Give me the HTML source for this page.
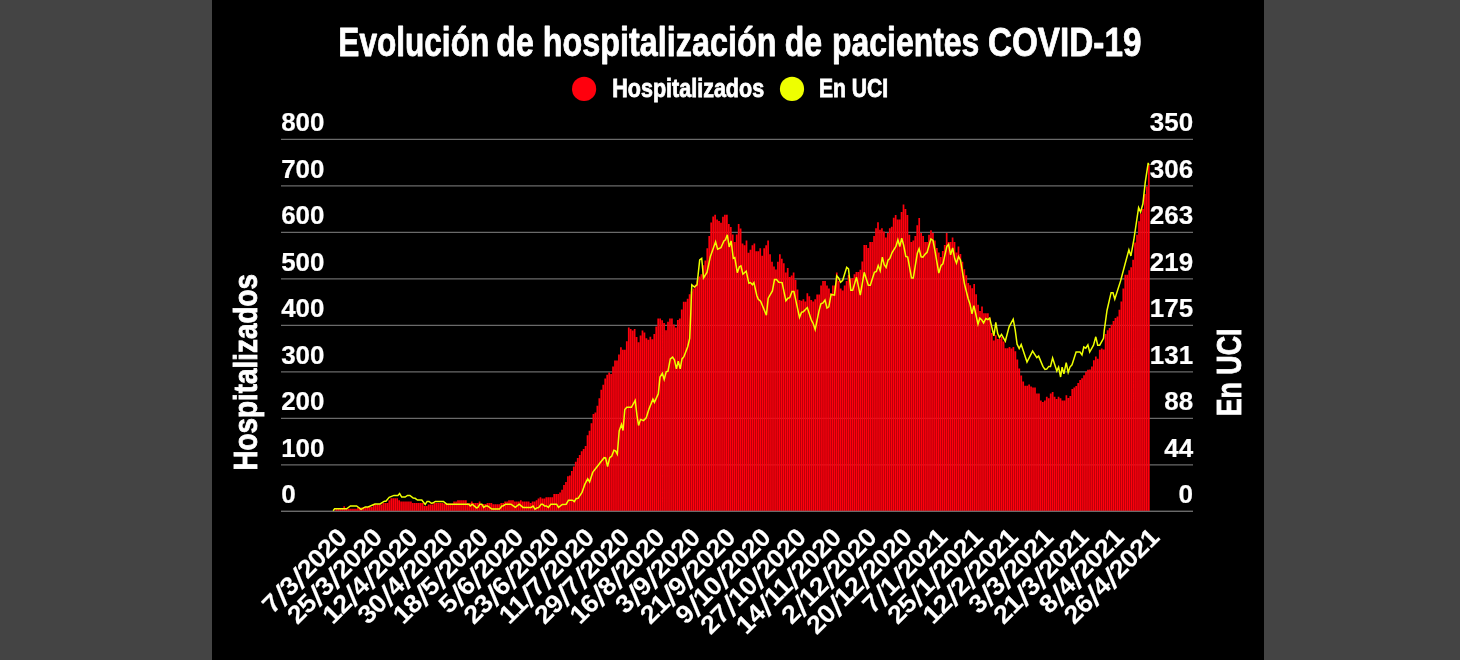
<!DOCTYPE html>
<html lang="es"><head><meta charset="utf-8"><title>Evolución de hospitalización de pacientes COVID-19</title>
<style>
html,body{margin:0;padding:0;background:#444;}
body{width:1460px;height:660px;overflow:hidden;position:relative;}
#panel{position:absolute;left:212px;top:0;width:1052px;height:660px;background:#000;}
svg{position:absolute;left:0;top:0;}
text{font-family:"Liberation Sans",sans-serif;font-weight:bold;fill:#fff;}
.sl{font-size:28.8px;font-style:italic;}
</style></head><body>
<div id="panel"></div>
<svg width="1460" height="660" viewBox="0 0 1460 660">
<g font-size="41.0" stroke="#fff" stroke-width="0.8" stroke-linejoin="round"><text><tspan x="338.32" y="55.7" textLength="150.93" lengthAdjust="spacingAndGlyphs">Evolución</tspan> <tspan x="496.35" y="55.7" textLength="37.35" lengthAdjust="spacingAndGlyphs">de</tspan> <tspan x="542.85" y="55.7" textLength="233.65" lengthAdjust="spacingAndGlyphs">hospitalización</tspan> <tspan x="784.79" y="55.7" textLength="37.37" lengthAdjust="spacingAndGlyphs">de</tspan> <tspan x="832.05" y="55.7" textLength="147.31" lengthAdjust="spacingAndGlyphs">pacientes</tspan> <tspan x="987.96" y="55.7" textLength="153.43" lengthAdjust="spacingAndGlyphs">COVID-19</tspan></text></g>
<circle cx="584.1" cy="88.9" r="12.1" fill="#ff000d"/>
<text x="612.3" y="97.4" font-size="25.3" textLength="151.8" lengthAdjust="spacingAndGlyphs" stroke="#fff" stroke-width="0.8">Hospitalizados</text>
<circle cx="792" cy="88.9" r="12.1" fill="#eeff00"/>
<text x="818.9" y="97.4" font-size="25.3" textLength="69.2" lengthAdjust="spacingAndGlyphs" stroke="#fff" stroke-width="0.8">En UCI</text>
<g stroke="#6a6a6a" stroke-width="1.38"><line x1="281" x2="1193" y1="511.35" y2="511.35"/><line x1="281" x2="1193" y1="464.85" y2="464.85"/><line x1="281" x2="1193" y1="418.35" y2="418.35"/><line x1="281" x2="1193" y1="371.85" y2="371.85"/><line x1="281" x2="1193" y1="325.35" y2="325.35"/><line x1="281" x2="1193" y1="278.85" y2="278.85"/><line x1="281" x2="1193" y1="232.35" y2="232.35"/><line x1="281" x2="1193" y1="185.85" y2="185.85"/><line x1="281" x2="1193" y1="139.35" y2="139.35"/></g>
<g font-size="25.5" stroke="#fff" stroke-width="0.2"><text x="281.2" y="503.1" textLength="14.5" lengthAdjust="spacingAndGlyphs">0</text><text x="281.2" y="456.6" textLength="43.3" lengthAdjust="spacingAndGlyphs">100</text><text x="281.2" y="410.1" textLength="43.3" lengthAdjust="spacingAndGlyphs">200</text><text x="281.2" y="363.6" textLength="43.3" lengthAdjust="spacingAndGlyphs">300</text><text x="281.2" y="317.1" textLength="43.3" lengthAdjust="spacingAndGlyphs">400</text><text x="281.2" y="270.6" textLength="43.3" lengthAdjust="spacingAndGlyphs">500</text><text x="281.2" y="224.1" textLength="43.3" lengthAdjust="spacingAndGlyphs">600</text><text x="281.2" y="177.6" textLength="43.3" lengthAdjust="spacingAndGlyphs">700</text><text x="281.2" y="131.1" textLength="43.3" lengthAdjust="spacingAndGlyphs">800</text><text x="1193.1" y="503.1" text-anchor="end" textLength="14.5" lengthAdjust="spacingAndGlyphs">0</text><text x="1193.1" y="456.6" text-anchor="end" textLength="28.9" lengthAdjust="spacingAndGlyphs">44</text><text x="1193.1" y="410.1" text-anchor="end" textLength="28.9" lengthAdjust="spacingAndGlyphs">88</text><text x="1193.1" y="363.6" text-anchor="end" textLength="43.3" lengthAdjust="spacingAndGlyphs">131</text><text x="1193.1" y="317.1" text-anchor="end" textLength="43.3" lengthAdjust="spacingAndGlyphs">175</text><text x="1193.1" y="270.6" text-anchor="end" textLength="43.3" lengthAdjust="spacingAndGlyphs">219</text><text x="1193.1" y="224.1" text-anchor="end" textLength="43.3" lengthAdjust="spacingAndGlyphs">263</text><text x="1193.1" y="177.6" text-anchor="end" textLength="43.3" lengthAdjust="spacingAndGlyphs">306</text><text x="1193.1" y="131.1" text-anchor="end" textLength="43.3" lengthAdjust="spacingAndGlyphs">350</text></g>
<path d="M333.53 511.4V510.7h1.7V511.4zM335.49 511.4V507.9h1.7V511.4zM337.46 511.4V507.9h1.7V511.4zM339.42 511.4V507.9h1.7V511.4zM341.38 511.4V507.9h1.7V511.4zM343.34 511.4V506.2h1.7V511.4zM345.31 511.4V508.2h1.7V511.4zM347.27 511.4V508.8h1.7V511.4zM349.23 511.4V508.8h1.7V511.4zM351.19 511.4V508.8h1.7V511.4zM353.16 511.4V508.8h1.7V511.4zM355.12 511.4V508.8h1.7V511.4zM357.08 511.4V507.4h1.7V511.4zM359.04 511.4V507.4h1.7V511.4zM361.01 511.4V507.4h1.7V511.4zM362.97 511.4V506.9h1.7V511.4zM364.93 511.4V506.9h1.7V511.4zM366.89 511.4V506.9h1.7V511.4zM368.86 511.4V506.9h1.7V511.4zM370.82 511.4V506.9h1.7V511.4zM372.78 511.4V504.5h1.7V511.4zM374.74 511.4V504.5h1.7V511.4zM376.71 511.4V504.5h1.7V511.4zM378.67 511.4V504.5h1.7V511.4zM380.63 511.4V504.5h1.7V511.4zM382.59 511.4V503.1h1.7V511.4zM384.56 511.4V503.1h1.7V511.4zM386.52 511.4V503.1h1.7V511.4zM388.48 511.4V500.2h1.7V511.4zM390.44 511.4V498.3h1.7V511.4zM392.41 511.4V498.3h1.7V511.4zM394.37 511.4V498.3h1.7V511.4zM396.33 511.4V498.3h1.7V511.4zM398.29 511.4V500.2h1.7V511.4zM400.26 511.4V501.6h1.7V511.4zM402.22 511.4V501.6h1.7V511.4zM404.18 511.4V501.6h1.7V511.4zM406.14 511.4V501.6h1.7V511.4zM408.11 511.4V501.6h1.7V511.4zM410.07 511.4V501.6h1.7V511.4zM412.03 511.4V503.1h1.7V511.4zM413.99 511.4V503.1h1.7V511.4zM415.96 511.4V503.1h1.7V511.4zM417.92 511.4V503.1h1.7V511.4zM419.88 511.4V503.1h1.7V511.4zM421.84 511.4V503.1h1.7V511.4zM423.81 511.4V506.0h1.7V511.4zM425.77 511.4V506.0h1.7V511.4zM427.73 511.4V504.5h1.7V511.4zM429.69 511.4V504.5h1.7V511.4zM431.66 511.4V504.5h1.7V511.4zM433.62 511.4V503.1h1.7V511.4zM435.58 511.4V503.1h1.7V511.4zM437.54 511.4V503.1h1.7V511.4zM439.51 511.4V503.1h1.7V511.4zM441.47 511.4V503.1h1.7V511.4zM443.43 511.4V503.4h1.7V511.4zM445.39 511.4V503.4h1.7V511.4zM447.36 511.4V503.4h1.7V511.4zM449.32 511.4V503.4h1.7V511.4zM451.28 511.4V503.4h1.7V511.4zM453.24 511.4V501.6h1.7V511.4zM455.21 511.4V501.6h1.7V511.4zM457.17 511.4V500.2h1.7V511.4zM459.13 511.4V500.2h1.7V511.4zM461.09 511.4V500.2h1.7V511.4zM463.06 511.4V500.2h1.7V511.4zM465.02 511.4V500.2h1.7V511.4zM466.98 511.4V503.1h1.7V511.4zM468.94 511.4V503.1h1.7V511.4zM470.91 511.4V501.6h1.7V511.4zM472.87 511.4V503.1h1.7V511.4zM474.83 511.4V503.1h1.7V511.4zM476.79 511.4V503.1h1.7V511.4zM478.76 511.4V501.6h1.7V511.4zM480.72 511.4V504.0h1.7V511.4zM482.68 511.4V504.0h1.7V511.4zM484.64 511.4V504.0h1.7V511.4zM486.61 511.4V503.1h1.7V511.4zM488.57 511.4V503.1h1.7V511.4zM490.53 511.4V503.1h1.7V511.4zM492.49 511.4V504.3h1.7V511.4zM494.46 511.4V504.3h1.7V511.4zM496.42 511.4V504.3h1.7V511.4zM498.38 511.4V504.3h1.7V511.4zM500.34 511.4V503.1h1.7V511.4zM502.31 511.4V503.1h1.7V511.4zM504.27 511.4V501.4h1.7V511.4zM506.23 511.4V501.4h1.7V511.4zM508.19 511.4V500.2h1.7V511.4zM510.16 511.4V500.2h1.7V511.4zM512.12 511.4V500.2h1.7V511.4zM514.08 511.4V501.4h1.7V511.4zM516.04 511.4V501.4h1.7V511.4zM518.01 511.4V501.4h1.7V511.4zM519.97 511.4V500.2h1.7V511.4zM521.93 511.4V501.4h1.7V511.4zM523.89 511.4V501.4h1.7V511.4zM525.86 511.4V501.4h1.7V511.4zM527.82 511.4V501.4h1.7V511.4zM529.78 511.4V503.1h1.7V511.4zM531.74 511.4V501.4h1.7V511.4zM533.71 511.4V501.4h1.7V511.4zM535.67 511.4V500.2h1.7V511.4zM537.63 511.4V498.5h1.7V511.4zM539.59 511.4V497.3h1.7V511.4zM541.56 511.4V498.5h1.7V511.4zM543.52 511.4V498.5h1.7V511.4zM545.48 511.4V497.3h1.7V511.4zM547.44 511.4V497.3h1.7V511.4zM549.41 511.4V497.3h1.7V511.4zM551.37 511.4V497.3h1.7V511.4zM553.33 511.4V494.0h1.7V511.4zM555.29 511.4V494.0h1.7V511.4zM557.26 511.4V494.0h1.7V511.4zM559.22 511.4V492.5h1.7V511.4zM561.18 511.4V489.7h1.7V511.4zM563.14 511.4V485.1h1.7V511.4zM565.11 511.4V482.0h1.7V511.4zM567.07 511.4V476.2h1.7V511.4zM569.03 511.4V475.5h1.7V511.4zM570.99 511.4V470.9h1.7V511.4zM572.96 511.4V466.4h1.7V511.4zM574.92 511.4V461.8h1.7V511.4zM576.88 511.4V458.0h1.7V511.4zM578.84 511.4V455.0h1.7V511.4zM580.81 511.4V451.2h1.7V511.4zM582.77 511.4V448.9h1.7V511.4zM584.73 511.4V445.9h1.7V511.4zM586.69 511.4V435.3h1.7V511.4zM588.66 511.4V430.8h1.7V511.4zM590.62 511.4V423.2h1.7V511.4zM592.58 511.4V414.1h1.7V511.4zM594.54 511.4V412.6h1.7V511.4zM596.51 511.4V405.8h1.7V511.4zM598.47 511.4V398.2h1.7V511.4zM600.43 511.4V389.8h1.7V511.4zM602.39 511.4V384.7h1.7V511.4zM604.36 511.4V378.6h1.7V511.4zM606.32 511.4V374.8h1.7V511.4zM608.28 511.4V372.6h1.7V511.4zM610.24 511.4V374.1h1.7V511.4zM612.21 511.4V366.5h1.7V511.4zM614.17 511.4V360.5h1.7V511.4zM616.13 511.4V360.5h1.7V511.4zM618.09 511.4V354.4h1.7V511.4zM620.06 511.4V347.3h1.7V511.4zM622.02 511.4V349.8h1.7V511.4zM623.98 511.4V349.8h1.7V511.4zM625.94 511.4V341.2h1.7V511.4zM627.91 511.4V327.6h1.7V511.4zM629.87 511.4V329.1h1.7V511.4zM631.83 511.4V330.6h1.7V511.4zM633.79 511.4V329.1h1.7V511.4zM635.76 511.4V337.0h1.7V511.4zM637.72 511.4V342.3h1.7V511.4zM639.68 511.4V335.5h1.7V511.4zM641.64 511.4V330.6h1.7V511.4zM643.61 511.4V332.4h1.7V511.4zM645.57 511.4V338.2h1.7V511.4zM647.53 511.4V339.7h1.7V511.4zM649.49 511.4V336.7h1.7V511.4zM651.46 511.4V339.2h1.7V511.4zM653.42 511.4V333.9h1.7V511.4zM655.38 511.4V326.4h1.7V511.4zM657.34 511.4V318.5h1.7V511.4zM659.31 511.4V318.5h1.7V511.4zM661.27 511.4V320.3h1.7V511.4zM663.23 511.4V323.0h1.7V511.4zM665.19 511.4V330.2h1.7V511.4zM667.16 511.4V321.8h1.7V511.4zM669.12 511.4V318.5h1.7V511.4zM671.08 511.4V318.5h1.7V511.4zM673.04 511.4V324.5h1.7V511.4zM675.01 511.4V327.6h1.7V511.4zM676.97 511.4V320.0h1.7V511.4zM678.93 511.4V318.5h1.7V511.4zM680.89 511.4V309.4h1.7V511.4zM682.86 511.4V301.8h1.7V511.4zM684.82 511.4V301.8h1.7V511.4zM686.78 511.4V298.8h1.7V511.4zM688.74 511.4V294.2h1.7V511.4zM690.71 511.4V291.5h1.7V511.4zM692.67 511.4V288.6h1.7V511.4zM694.63 511.4V284.5h1.7V511.4zM696.59 511.4V280.3h1.7V511.4zM698.56 511.4V276.5h1.7V511.4zM700.52 511.4V274.2h1.7V511.4zM702.48 511.4V265.2h1.7V511.4zM704.44 511.4V260.6h1.7V511.4zM706.41 511.4V248.2h1.7V511.4zM708.37 511.4V236.1h1.7V511.4zM710.33 511.4V222.4h1.7V511.4zM712.29 511.4V216.4h1.7V511.4zM714.26 511.4V214.8h1.7V511.4zM716.22 511.4V219.4h1.7V511.4zM718.18 511.4V220.9h1.7V511.4zM720.14 511.4V222.7h1.7V511.4zM722.11 511.4V216.7h1.7V511.4zM724.07 511.4V214.8h1.7V511.4zM726.03 511.4V214.8h1.7V511.4zM727.99 511.4V223.9h1.7V511.4zM729.96 511.4V227.0h1.7V511.4zM731.92 511.4V234.5h1.7V511.4zM733.88 511.4V242.1h1.7V511.4zM735.84 511.4V234.5h1.7V511.4zM737.81 511.4V223.9h1.7V511.4zM739.77 511.4V228.5h1.7V511.4zM741.73 511.4V243.6h1.7V511.4zM743.69 511.4V245.2h1.7V511.4zM745.66 511.4V240.6h1.7V511.4zM747.62 511.4V252.7h1.7V511.4zM749.58 511.4V249.7h1.7V511.4zM751.54 511.4V245.2h1.7V511.4zM753.51 511.4V243.6h1.7V511.4zM755.47 511.4V251.2h1.7V511.4zM757.43 511.4V251.2h1.7V511.4zM759.39 511.4V248.2h1.7V511.4zM761.36 511.4V255.8h1.7V511.4zM763.32 511.4V248.2h1.7V511.4zM765.28 511.4V245.2h1.7V511.4zM767.24 511.4V240.6h1.7V511.4zM769.21 511.4V254.2h1.7V511.4zM771.17 511.4V261.8h1.7V511.4zM773.13 511.4V266.4h1.7V511.4zM775.09 511.4V269.4h1.7V511.4zM777.06 511.4V261.8h1.7V511.4zM779.02 511.4V254.2h1.7V511.4zM780.98 511.4V258.8h1.7V511.4zM782.94 511.4V263.3h1.7V511.4zM784.91 511.4V272.4h1.7V511.4zM786.87 511.4V267.9h1.7V511.4zM788.83 511.4V277.0h1.7V511.4zM790.79 511.4V275.5h1.7V511.4zM792.76 511.4V272.4h1.7V511.4zM794.72 511.4V280.0h1.7V511.4zM796.68 511.4V289.4h1.7V511.4zM798.64 511.4V300.0h1.7V511.4zM800.61 511.4V300.8h1.7V511.4zM802.57 511.4V299.2h1.7V511.4zM804.53 511.4V301.5h1.7V511.4zM806.49 511.4V293.2h1.7V511.4zM808.46 511.4V296.2h1.7V511.4zM810.42 511.4V300.0h1.7V511.4zM812.38 511.4V301.5h1.7V511.4zM814.34 511.4V299.2h1.7V511.4zM816.31 511.4V294.4h1.7V511.4zM818.27 511.4V294.4h1.7V511.4zM820.23 511.4V285.6h1.7V511.4zM822.19 511.4V281.1h1.7V511.4zM824.16 511.4V281.1h1.7V511.4zM826.12 511.4V285.6h1.7V511.4zM828.08 511.4V288.6h1.7V511.4zM830.04 511.4V293.2h1.7V511.4zM832.01 511.4V285.6h1.7V511.4zM833.97 511.4V285.6h1.7V511.4zM835.93 511.4V272.4h1.7V511.4zM837.89 511.4V281.1h1.7V511.4zM839.86 511.4V288.6h1.7V511.4zM841.82 511.4V290.6h1.7V511.4zM843.78 511.4V285.6h1.7V511.4zM845.74 511.4V281.1h1.7V511.4zM847.71 511.4V275.0h1.7V511.4zM849.67 511.4V278.8h1.7V511.4zM851.63 511.4V278.0h1.7V511.4zM853.59 511.4V274.2h1.7V511.4zM855.56 511.4V272.0h1.7V511.4zM857.52 511.4V272.0h1.7V511.4zM859.48 511.4V269.7h1.7V511.4zM861.44 511.4V261.4h1.7V511.4zM863.41 511.4V245.0h1.7V511.4zM865.37 511.4V245.0h1.7V511.4zM867.33 511.4V248.0h1.7V511.4zM869.29 511.4V242.0h1.7V511.4zM871.26 511.4V242.0h1.7V511.4zM873.22 511.4V235.9h1.7V511.4zM875.18 511.4V228.3h1.7V511.4zM877.14 511.4V222.3h1.7V511.4zM879.11 511.4V229.8h1.7V511.4zM881.07 511.4V228.3h1.7V511.4zM883.03 511.4V231.4h1.7V511.4zM884.99 511.4V237.4h1.7V511.4zM886.96 511.4V232.9h1.7V511.4zM888.92 511.4V228.3h1.7V511.4zM890.88 511.4V226.8h1.7V511.4zM892.84 511.4V217.7h1.7V511.4zM894.81 511.4V215.0h1.7V511.4zM896.77 511.4V219.5h1.7V511.4zM898.73 511.4V219.5h1.7V511.4zM900.69 511.4V212.0h1.7V511.4zM902.66 511.4V204.4h1.7V511.4zM904.62 511.4V208.9h1.7V511.4zM906.58 511.4V215.0h1.7V511.4zM908.54 511.4V234.7h1.7V511.4zM910.51 511.4V242.0h1.7V511.4zM912.47 511.4V240.5h1.7V511.4zM914.43 511.4V235.9h1.7V511.4zM916.39 511.4V225.3h1.7V511.4zM918.36 511.4V218.0h1.7V511.4zM920.32 511.4V232.9h1.7V511.4zM922.28 511.4V235.9h1.7V511.4zM924.24 511.4V242.0h1.7V511.4zM926.21 511.4V242.0h1.7V511.4zM928.17 511.4V234.7h1.7V511.4zM930.13 511.4V230.2h1.7V511.4zM932.09 511.4V232.9h1.7V511.4zM934.06 511.4V240.5h1.7V511.4zM936.02 511.4V248.0h1.7V511.4zM937.98 511.4V252.6h1.7V511.4zM939.94 511.4V257.1h1.7V511.4zM941.91 511.4V251.1h1.7V511.4zM943.87 511.4V245.0h1.7V511.4zM945.83 511.4V232.9h1.7V511.4zM947.79 511.4V242.0h1.7V511.4zM949.76 511.4V242.0h1.7V511.4zM951.72 511.4V237.4h1.7V511.4zM953.68 511.4V242.0h1.7V511.4zM955.64 511.4V252.6h1.7V511.4zM957.61 511.4V246.5h1.7V511.4zM959.57 511.4V254.1h1.7V511.4zM961.53 511.4V261.7h1.7V511.4zM963.49 511.4V269.2h1.7V511.4zM965.46 511.4V275.3h1.7V511.4zM967.42 511.4V282.9h1.7V511.4zM969.38 511.4V285.2h1.7V511.4zM971.34 511.4V288.2h1.7V511.4zM973.31 511.4V283.9h1.7V511.4zM975.27 511.4V294.2h1.7V511.4zM977.23 511.4V304.8h1.7V511.4zM979.19 511.4V310.9h1.7V511.4zM981.16 511.4V306.4h1.7V511.4zM983.12 511.4V313.2h1.7V511.4zM985.08 511.4V313.2h1.7V511.4zM987.04 511.4V313.2h1.7V511.4zM989.01 511.4V317.7h1.7V511.4zM990.97 511.4V332.9h1.7V511.4zM992.93 511.4V340.5h1.7V511.4zM994.89 511.4V335.2h1.7V511.4zM996.86 511.4V338.9h1.7V511.4zM998.82 511.4V338.9h1.7V511.4zM1000.78 511.4V336.8h1.7V511.4zM1002.74 511.4V341.4h1.7V511.4zM1004.71 511.4V348.2h1.7V511.4zM1006.67 511.4V348.2h1.7V511.4zM1008.63 511.4V347.0h1.7V511.4zM1010.59 511.4V348.5h1.7V511.4zM1012.56 511.4V347.0h1.7V511.4zM1014.52 511.4V351.2h1.7V511.4zM1016.48 511.4V359.5h1.7V511.4zM1018.44 511.4V368.6h1.7V511.4zM1020.41 511.4V375.5h1.7V511.4zM1022.37 511.4V381.5h1.7V511.4zM1024.33 511.4V385.8h1.7V511.4zM1026.29 511.4V385.8h1.7V511.4zM1028.26 511.4V384.5h1.7V511.4zM1030.22 511.4V386.4h1.7V511.4zM1032.18 511.4V387.6h1.7V511.4zM1034.14 511.4V387.6h1.7V511.4zM1036.11 511.4V393.6h1.7V511.4zM1038.07 511.4V393.6h1.7V511.4zM1040.03 511.4V400.5h1.7V511.4zM1041.99 511.4V402.0h1.7V511.4zM1043.96 511.4V400.5h1.7V511.4zM1045.92 511.4V396.7h1.7V511.4zM1047.88 511.4V398.2h1.7V511.4zM1049.84 511.4V393.6h1.7V511.4zM1051.81 511.4V392.1h1.7V511.4zM1053.77 511.4V396.7h1.7V511.4zM1055.73 511.4V398.9h1.7V511.4zM1057.69 511.4V396.7h1.7V511.4zM1059.66 511.4V398.2h1.7V511.4zM1061.62 511.4V400.5h1.7V511.4zM1063.58 511.4V400.5h1.7V511.4zM1065.54 511.4V395.2h1.7V511.4zM1067.51 511.4V397.9h1.7V511.4zM1069.47 511.4V395.9h1.7V511.4zM1071.43 511.4V389.1h1.7V511.4zM1073.39 511.4V387.6h1.7V511.4zM1075.36 511.4V386.1h1.7V511.4zM1077.32 511.4V383.0h1.7V511.4zM1079.28 511.4V380.0h1.7V511.4zM1081.24 511.4V378.2h1.7V511.4zM1083.21 511.4V375.2h1.7V511.4zM1085.17 511.4V371.7h1.7V511.4zM1087.13 511.4V369.7h1.7V511.4zM1089.09 511.4V369.4h1.7V511.4zM1091.06 511.4V366.4h1.7V511.4zM1093.02 511.4V360.3h1.7V511.4zM1094.98 511.4V356.5h1.7V511.4zM1096.94 511.4V358.8h1.7V511.4zM1098.91 511.4V349.7h1.7V511.4zM1100.87 511.4V348.5h1.7V511.4zM1102.83 511.4V349.4h1.7V511.4zM1104.79 511.4V333.9h1.7V511.4zM1106.76 511.4V330.2h1.7V511.4zM1108.72 511.4V327.9h1.7V511.4zM1110.68 511.4V324.8h1.7V511.4zM1112.64 511.4V321.1h1.7V511.4zM1114.61 511.4V318.0h1.7V511.4zM1116.57 511.4V316.5h1.7V511.4zM1118.53 511.4V309.7h1.7V511.4zM1120.49 511.4V301.4h1.7V511.4zM1122.46 511.4V288.5h1.7V511.4zM1124.42 511.4V274.8h1.7V511.4zM1126.38 511.4V274.8h1.7V511.4zM1128.34 511.4V270.3h1.7V511.4zM1130.31 511.4V267.3h1.7V511.4zM1132.27 511.4V259.7h1.7V511.4zM1134.23 511.4V242.4h1.7V511.4zM1136.19 511.4V234.8h1.7V511.4zM1138.16 511.4V221.2h1.7V511.4zM1140.12 511.4V213.6h1.7V511.4zM1142.08 511.4V209.1h1.7V511.4zM1144.04 511.4V193.9h1.7V511.4zM1146.01 511.4V186.4h1.7V511.4zM1147.97 511.4V165.2h1.7V511.4z" fill="#ff000d"/>
<line x1="281" x2="1193" y1="511.35" y2="511.35" stroke="#6a6a6a" stroke-width="1.38"/>
<polyline points="333.1,510.7 334.6,508.8 346.6,508.8 350.4,506.0 356.6,506.0 361.0,509.3 365.3,506.9 368.1,506.9 374.9,504.0 380.1,504.0 384.4,501.2 385.9,501.2 389.2,497.3 394.0,495.4 397.9,495.4 399.6,493.5 401.7,497.1 405.1,497.1 407.5,495.4 409.9,495.4 413.2,498.1 415.1,498.3 417.5,500.0 421.8,500.0 425.2,504.5 427.1,501.4 429.0,501.4 431.4,503.3 432.9,503.1 435.3,501.4 443.4,501.4 446.8,504.2 465.0,504.2 468.8,504.2 470.3,506.0 472.2,504.2 476.5,507.9 477.9,507.4 479.9,504.2 481.8,504.2 483.7,507.4 485.6,506.0 487.5,506.0 491.8,509.1 499.5,509.1 501.9,506.0 503.4,505.7 505.7,504.2 511.0,504.2 515.3,507.4 519.2,504.2 523.0,507.4 531.2,507.4 533.1,506.0 535.0,509.1 536.9,507.9 538.8,507.4 541.2,504.2 542.7,504.2 544.6,506.0 546.5,506.0 548.4,507.4 550.8,504.2 556.6,504.2 558.5,507.4 562.3,504.5 566.2,504.2 568.5,500.2 572.4,500.2 574.3,501.6 576.2,498.5 578.1,498.3 582.0,492.5 584.8,484.4 587.7,478.8 589.6,482.0 592.7,472.4 604.1,457.7 605.6,458.0 607.6,466.7 609.7,457.7 611.7,456.2 613.9,450.2 615.5,450.9 617.3,454.2 619.2,430.8 621.5,424.4 623.0,430.5 624.8,409.5 626.8,407.3 631.4,407.3 635.2,400.5 637.0,415.6 638.6,425.5 640.5,419.4 643.5,420.6 646.2,417.9 648.8,409.5 652.9,399.2 654.4,402.4 658.3,393.9 660.0,377.1 662.4,373.3 664.2,379.4 666.2,371.8 668.0,371.1 670.3,358.9 672.6,357.1 674.4,359.7 676.4,368.8 678.2,361.2 680.2,368.8 682.0,358.9 683.9,356.7 687.7,346.8 689.7,338.5 690.8,312.7 691.8,284.8 694.4,287.1 697.0,284.8 699.7,259.8 701.7,258.3 703.5,278.0 707.0,272.4 710.3,256.8 715.6,241.7 717.6,249.2 720.9,247.7 723.9,240.9 725.5,239.8 727.3,234.8 729.2,247.0 731.1,240.9 733.3,258.3 734.8,257.6 737.3,272.7 739.4,266.7 740.9,265.9 742.9,274.2 746.2,271.2 748.9,283.3 750.5,282.6 752.4,284.8 753.9,282.6 756.8,295.5 758.3,299.2 760.6,301.2 766.4,315.2 768.2,298.2 772.4,290.9 774.5,279.5 776.5,279.5 778.8,282.3 782.1,282.6 785.9,300.8 787.9,298.2 789.7,297.7 792.0,291.4 793.9,291.4 799.5,317.4 801.5,312.4 803.3,311.8 807.3,307.6 811.4,320.2 813.2,323.5 815.2,329.5 818.9,311.4 820.9,303.8 823.0,303.0 825.0,300.0 827.0,308.0 828.8,306.8 831.1,294.4 834.5,295.2 836.7,275.8 838.6,278.0 840.6,282.3 842.7,280.3 846.7,267.4 848.5,268.9 850.8,290.2 852.7,290.2 856.5,277.3 860.3,295.2 864.2,272.3 868.3,285.2 870.3,285.2 874.4,272.3 876.4,271.5 878.2,265.5 880.2,270.8 882.3,257.1 884.2,264.7 886.1,267.4 888.0,260.2 889.8,258.6 892.1,252.6 895.9,246.5 897.9,239.7 899.8,246.5 901.7,238.2 903.6,245.0 905.8,256.4 907.7,257.1 911.5,278.0 913.3,278.0 917.3,253.3 919.1,248.8 921.1,256.8 922.9,257.1 925.2,254.1 927.1,252.3 930.9,238.9 933.0,240.5 935.0,251.1 938.8,273.0 941.1,265.5 942.9,263.9 946.8,246.5 948.6,244.2 950.6,254.8 952.7,248.0 954.7,258.6 956.5,263.2 958.5,256.4 960.5,260.2 964.4,283.6 968.2,298.8 970.0,304.1 972.0,313.9 973.9,305.6 976.1,315.5 978.0,324.2 979.8,318.2 981.8,320.0 983.6,323.0 985.9,318.5 987.9,319.7 989.7,318.2 993.9,335.9 995.8,322.3 997.7,333.6 999.5,337.4 1001.5,334.4 1005.3,341.2 1009.1,326.8 1013.2,319.2 1015.2,329.8 1017.1,344.2 1019.2,348.5 1021.2,344.5 1027.0,362.1 1032.6,351.1 1036.8,357.6 1038.6,356.1 1042.9,366.4 1045.0,369.4 1046.7,369.1 1048.8,366.4 1050.5,366.4 1052.6,358.0 1056.8,370.9 1058.6,367.1 1060.6,377.0 1062.1,367.1 1063.9,373.9 1066.2,362.6 1068.2,372.4 1070.0,367.1 1072.0,364.8 1076.1,352.0 1080.0,352.0 1082.0,355.0 1083.8,347.0 1085.8,348.2 1087.9,344.8 1089.7,352.0 1093.5,345.2 1095.8,336.8 1097.7,345.2 1099.7,345.2 1103.5,338.3 1104.2,330.9 1107.0,310.5 1111.1,292.7 1113.0,292.7 1114.8,299.1 1120.6,280.9 1125.2,263.5 1128.9,249.8 1130.9,255.9 1133.8,240.0 1138.6,207.6 1140.6,212.1 1142.9,203.8 1145.2,182.6 1148.2,162.9 1148.9,165.2" fill="none" stroke="#eeff00" stroke-width="1.5" stroke-linejoin="miter"/>
<g font-size="25.3" stroke="#fff" stroke-width="0.15"><text transform="translate(348.7,538.6) rotate(-45) scale(1.07,1)" text-anchor="end" textLength="100.7" lengthAdjust="spacing"><tspan>7</tspan><tspan class="sl" dx="0.6" dy="2.8">/</tspan><tspan dx="1.6" dy="-2.8">3</tspan><tspan class="sl" dx="0.6" dy="2.8">/</tspan><tspan dx="1.6" dy="-2.8">2020</tspan></text><text transform="translate(384.0,538.6) rotate(-45) scale(1.07,1)" text-anchor="end" textLength="114.4" lengthAdjust="spacing"><tspan>25</tspan><tspan class="sl" dx="0.6" dy="2.8">/</tspan><tspan dx="1.6" dy="-2.8">3</tspan><tspan class="sl" dx="0.6" dy="2.8">/</tspan><tspan dx="1.6" dy="-2.8">2020</tspan></text><text transform="translate(419.3,538.6) rotate(-45) scale(1.07,1)" text-anchor="end" textLength="114.4" lengthAdjust="spacing"><tspan>12</tspan><tspan class="sl" dx="0.6" dy="2.8">/</tspan><tspan dx="1.6" dy="-2.8">4</tspan><tspan class="sl" dx="0.6" dy="2.8">/</tspan><tspan dx="1.6" dy="-2.8">2020</tspan></text><text transform="translate(454.6,538.6) rotate(-45) scale(1.07,1)" text-anchor="end" textLength="114.4" lengthAdjust="spacing"><tspan>30</tspan><tspan class="sl" dx="0.6" dy="2.8">/</tspan><tspan dx="1.6" dy="-2.8">4</tspan><tspan class="sl" dx="0.6" dy="2.8">/</tspan><tspan dx="1.6" dy="-2.8">2020</tspan></text><text transform="translate(489.9,538.6) rotate(-45) scale(1.07,1)" text-anchor="end" textLength="114.4" lengthAdjust="spacing"><tspan>18</tspan><tspan class="sl" dx="0.6" dy="2.8">/</tspan><tspan dx="1.6" dy="-2.8">5</tspan><tspan class="sl" dx="0.6" dy="2.8">/</tspan><tspan dx="1.6" dy="-2.8">2020</tspan></text><text transform="translate(525.2,538.6) rotate(-45) scale(1.07,1)" text-anchor="end" textLength="100.7" lengthAdjust="spacing"><tspan>5</tspan><tspan class="sl" dx="0.6" dy="2.8">/</tspan><tspan dx="1.6" dy="-2.8">6</tspan><tspan class="sl" dx="0.6" dy="2.8">/</tspan><tspan dx="1.6" dy="-2.8">2020</tspan></text><text transform="translate(560.6,538.6) rotate(-45) scale(1.07,1)" text-anchor="end" textLength="114.4" lengthAdjust="spacing"><tspan>23</tspan><tspan class="sl" dx="0.6" dy="2.8">/</tspan><tspan dx="1.6" dy="-2.8">6</tspan><tspan class="sl" dx="0.6" dy="2.8">/</tspan><tspan dx="1.6" dy="-2.8">2020</tspan></text><text transform="translate(595.9,538.6) rotate(-45) scale(1.07,1)" text-anchor="end" textLength="114.4" lengthAdjust="spacing"><tspan>11</tspan><tspan class="sl" dx="0.6" dy="2.8">/</tspan><tspan dx="1.6" dy="-2.8">7</tspan><tspan class="sl" dx="0.6" dy="2.8">/</tspan><tspan dx="1.6" dy="-2.8">2020</tspan></text><text transform="translate(631.2,538.6) rotate(-45) scale(1.07,1)" text-anchor="end" textLength="114.4" lengthAdjust="spacing"><tspan>29</tspan><tspan class="sl" dx="0.6" dy="2.8">/</tspan><tspan dx="1.6" dy="-2.8">7</tspan><tspan class="sl" dx="0.6" dy="2.8">/</tspan><tspan dx="1.6" dy="-2.8">2020</tspan></text><text transform="translate(666.5,538.6) rotate(-45) scale(1.07,1)" text-anchor="end" textLength="114.4" lengthAdjust="spacing"><tspan>16</tspan><tspan class="sl" dx="0.6" dy="2.8">/</tspan><tspan dx="1.6" dy="-2.8">8</tspan><tspan class="sl" dx="0.6" dy="2.8">/</tspan><tspan dx="1.6" dy="-2.8">2020</tspan></text><text transform="translate(701.8,538.6) rotate(-45) scale(1.07,1)" text-anchor="end" textLength="100.7" lengthAdjust="spacing"><tspan>3</tspan><tspan class="sl" dx="0.6" dy="2.8">/</tspan><tspan dx="1.6" dy="-2.8">9</tspan><tspan class="sl" dx="0.6" dy="2.8">/</tspan><tspan dx="1.6" dy="-2.8">2020</tspan></text><text transform="translate(737.1,538.6) rotate(-45) scale(1.07,1)" text-anchor="end" textLength="114.4" lengthAdjust="spacing"><tspan>21</tspan><tspan class="sl" dx="0.6" dy="2.8">/</tspan><tspan dx="1.6" dy="-2.8">9</tspan><tspan class="sl" dx="0.6" dy="2.8">/</tspan><tspan dx="1.6" dy="-2.8">2020</tspan></text><text transform="translate(772.4,538.6) rotate(-45) scale(1.07,1)" text-anchor="end" textLength="114.4" lengthAdjust="spacing"><tspan>9</tspan><tspan class="sl" dx="0.6" dy="2.8">/</tspan><tspan dx="1.6" dy="-2.8">10</tspan><tspan class="sl" dx="0.6" dy="2.8">/</tspan><tspan dx="1.6" dy="-2.8">2020</tspan></text><text transform="translate(807.7,538.6) rotate(-45) scale(1.07,1)" text-anchor="end" textLength="128.0" lengthAdjust="spacing"><tspan>27</tspan><tspan class="sl" dx="0.6" dy="2.8">/</tspan><tspan dx="1.6" dy="-2.8">10</tspan><tspan class="sl" dx="0.6" dy="2.8">/</tspan><tspan dx="1.6" dy="-2.8">2020</tspan></text><text transform="translate(843.0,538.6) rotate(-45) scale(1.07,1)" text-anchor="end" textLength="128.0" lengthAdjust="spacing"><tspan>14</tspan><tspan class="sl" dx="0.6" dy="2.8">/</tspan><tspan dx="1.6" dy="-2.8">11</tspan><tspan class="sl" dx="0.6" dy="2.8">/</tspan><tspan dx="1.6" dy="-2.8">2020</tspan></text><text transform="translate(878.4,538.6) rotate(-45) scale(1.07,1)" text-anchor="end" textLength="114.4" lengthAdjust="spacing"><tspan>2</tspan><tspan class="sl" dx="0.6" dy="2.8">/</tspan><tspan dx="1.6" dy="-2.8">12</tspan><tspan class="sl" dx="0.6" dy="2.8">/</tspan><tspan dx="1.6" dy="-2.8">2020</tspan></text><text transform="translate(913.7,538.6) rotate(-45) scale(1.07,1)" text-anchor="end" textLength="128.0" lengthAdjust="spacing"><tspan>20</tspan><tspan class="sl" dx="0.6" dy="2.8">/</tspan><tspan dx="1.6" dy="-2.8">12</tspan><tspan class="sl" dx="0.6" dy="2.8">/</tspan><tspan dx="1.6" dy="-2.8">2020</tspan></text><text transform="translate(949.0,538.6) rotate(-45) scale(1.07,1)" text-anchor="end" textLength="100.7" lengthAdjust="spacing"><tspan>7</tspan><tspan class="sl" dx="0.6" dy="2.8">/</tspan><tspan dx="1.6" dy="-2.8">1</tspan><tspan class="sl" dx="0.6" dy="2.8">/</tspan><tspan dx="1.6" dy="-2.8">2021</tspan></text><text transform="translate(984.3,538.6) rotate(-45) scale(1.07,1)" text-anchor="end" textLength="114.4" lengthAdjust="spacing"><tspan>25</tspan><tspan class="sl" dx="0.6" dy="2.8">/</tspan><tspan dx="1.6" dy="-2.8">1</tspan><tspan class="sl" dx="0.6" dy="2.8">/</tspan><tspan dx="1.6" dy="-2.8">2021</tspan></text><text transform="translate(1019.6,538.6) rotate(-45) scale(1.07,1)" text-anchor="end" textLength="114.4" lengthAdjust="spacing"><tspan>12</tspan><tspan class="sl" dx="0.6" dy="2.8">/</tspan><tspan dx="1.6" dy="-2.8">2</tspan><tspan class="sl" dx="0.6" dy="2.8">/</tspan><tspan dx="1.6" dy="-2.8">2021</tspan></text><text transform="translate(1054.9,538.6) rotate(-45) scale(1.07,1)" text-anchor="end" textLength="100.7" lengthAdjust="spacing"><tspan>3</tspan><tspan class="sl" dx="0.6" dy="2.8">/</tspan><tspan dx="1.6" dy="-2.8">3</tspan><tspan class="sl" dx="0.6" dy="2.8">/</tspan><tspan dx="1.6" dy="-2.8">2021</tspan></text><text transform="translate(1090.2,538.6) rotate(-45) scale(1.07,1)" text-anchor="end" textLength="114.4" lengthAdjust="spacing"><tspan>21</tspan><tspan class="sl" dx="0.6" dy="2.8">/</tspan><tspan dx="1.6" dy="-2.8">3</tspan><tspan class="sl" dx="0.6" dy="2.8">/</tspan><tspan dx="1.6" dy="-2.8">2021</tspan></text><text transform="translate(1125.5,538.6) rotate(-45) scale(1.07,1)" text-anchor="end" textLength="100.7" lengthAdjust="spacing"><tspan>8</tspan><tspan class="sl" dx="0.6" dy="2.8">/</tspan><tspan dx="1.6" dy="-2.8">4</tspan><tspan class="sl" dx="0.6" dy="2.8">/</tspan><tspan dx="1.6" dy="-2.8">2021</tspan></text><text transform="translate(1160.8,538.6) rotate(-45) scale(1.07,1)" text-anchor="end" textLength="114.4" lengthAdjust="spacing"><tspan>26</tspan><tspan class="sl" dx="0.6" dy="2.8">/</tspan><tspan dx="1.6" dy="-2.8">4</tspan><tspan class="sl" dx="0.6" dy="2.8">/</tspan><tspan dx="1.6" dy="-2.8">2021</tspan></text></g>
<text transform="translate(256.8,470.6) rotate(-90)" font-size="32.9" textLength="196.7" lengthAdjust="spacingAndGlyphs" stroke="#fff" stroke-width="0.8">Hospitalizados</text>
<text transform="translate(1241.3,416.3) rotate(-90)" font-size="34.3" textLength="87.8" lengthAdjust="spacingAndGlyphs" stroke="#fff" stroke-width="0.8">En UCI</text>
</svg>
</body></html>
